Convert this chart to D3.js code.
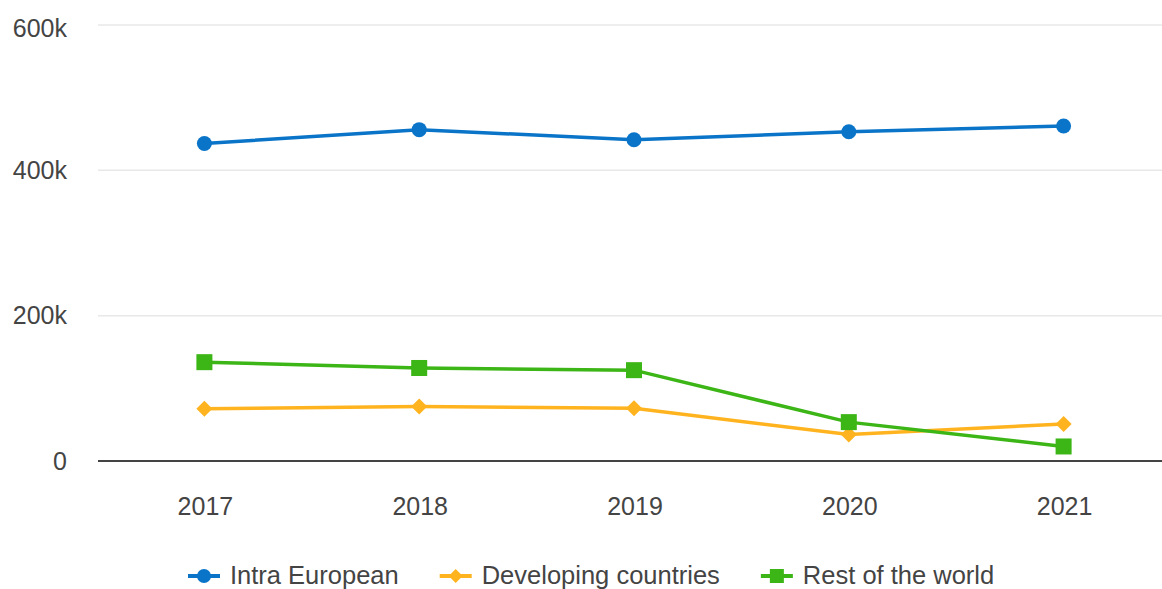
<!DOCTYPE html>
<html>
<head>
<meta charset="utf-8">
<script src="https://cdn.jsdelivr.net/npm/d3@7"></script>
<style>
  body { margin: 0; background: #fff; }
  text { font-family: "Liberation Sans", Arial, sans-serif; fill: #444; }
</style>
</head>
<body>
<script>
// data
let years = ["2017", "2018", "2019", "2020", "2021"];
let intraEuropean = [437000, 456000, 442000, 453000, 461000];
let developing = [72000, 75000, 72500, 36500, 51000];
let restOfWorld = [136000, 128000, 125000, 53500, 20000];
let yTicks = [0, 200000, 400000, 600000];
let yTickLabels = ["0", "200k", "400k", "600k"];

let w = 1162, h = 589;
let margin = {left: 97, right: -9, top: 25, bottom: 128};

let series = [
  {name: "Intra European", values: intraEuropean, color: "#0a74c8", shape: "circle"},
  {name: "Developing countries", values: developing, color: "#ffb31f", shape: "diamond"},
  {name: "Rest of the world", values: restOfWorld, color: "#3cb516", shape: "square"}
];

let svg = d3.select("body").append("svg").attr("width", w).attr("height", h);

let x = d3.scaleBand()
  .domain(years)
  .range([margin.left, w - margin.right]);

let y = d3.scaleLinear()
  .domain([0, 600000])
  .range([h - margin.bottom, margin.top]);

// gridlines
svg.append("g").selectAll("line")
  .data(yTicks.filter(d => d > 0))
  .enter().append("line")
  .attr("x1", margin.left + 1).attr("x2", w)
  .attr("y1", d => y(d)).attr("y2", d => y(d))
  .attr("stroke", "#e8e8e8").attr("stroke-width", 1.5);

// y labels
svg.append("g").selectAll("text")
  .data(yTicks)
  .enter().append("text")
  .attr("x", 67)
  .attr("y", d => Math.max(y(d), 28))
  .attr("dy", "0.35em")
  .attr("text-anchor", "end")
  .style("font-size", "25px")
  .text((d, i) => yTickLabels[i]);

// baseline
svg.append("line")
  .attr("x1", margin.left + 1).attr("x2", w)
  .attr("y1", y(0)).attr("y2", y(0))
  .attr("stroke", "#444").attr("stroke-width", 2);

// x labels
svg.append("g").selectAll("text")
  .data(years)
  .enter().append("text")
  .attr("x", d => x(d) + x.bandwidth() / 2 + 1)
  .attr("y", y(0) + 54)
  .attr("text-anchor", "middle")
  .style("font-size", "25px")
  .text(d => d);

let cx = d => x(d) + x.bandwidth() / 2;

function marker(g, shape, color) {
  if (shape == "circle") {
    g.append("circle").attr("r", 7.5).attr("fill", color);
  } else if (shape == "square") {
    g.append("rect").attr("x", -8).attr("y", -8).attr("width", 16).attr("height", 16).attr("fill", color);
  } else {
    g.append("path").attr("d", "M0,-8L8,0L0,8L-8,0Z").attr("fill", color);
  }
}

let line = d3.line()
  .x((d, i) => cx(years[i]))
  .y(d => y(d));

series.forEach(s => {
  svg.append("path")
    .attr("d", line(s.values))
    .attr("fill", "none")
    .attr("stroke", s.color)
    .attr("stroke-width", 3.5);
  s.values.forEach((v, i) => {
    let g = svg.append("g").attr("transform", "translate(" + cx(years[i]) + "," + y(v) + ")");
    marker(g, s.shape, s.color);
  });
});

// legend
let lx = 188;
let ly = 576;
series.forEach(s => {
  let g = svg.append("g").attr("transform", "translate(" + lx + "," + ly + ")");
  g.append("line").attr("x1", 0).attr("x2", 32).attr("stroke", s.color).attr("stroke-width", 4);
  let m = g.append("g").attr("transform", "translate(16,0)");
  if (s.shape == "circle") m.append("circle").attr("r", 7).attr("fill", s.color);
  else if (s.shape == "square") m.append("rect").attr("x", -7).attr("y", -7).attr("width", 14).attr("height", 14).attr("fill", s.color);
  else m.append("path").attr("d", "M0,-7L7,0L0,7L-7,0Z").attr("fill", s.color);
  let t = g.append("text")
    .attr("x", 42)
    .attr("y", 8)
    .style("font-size", "25.5px")
    .text(s.name);
  lx += 42 + t.node().getComputedTextLength() + 41;
});
</script>
</body>
</html>
